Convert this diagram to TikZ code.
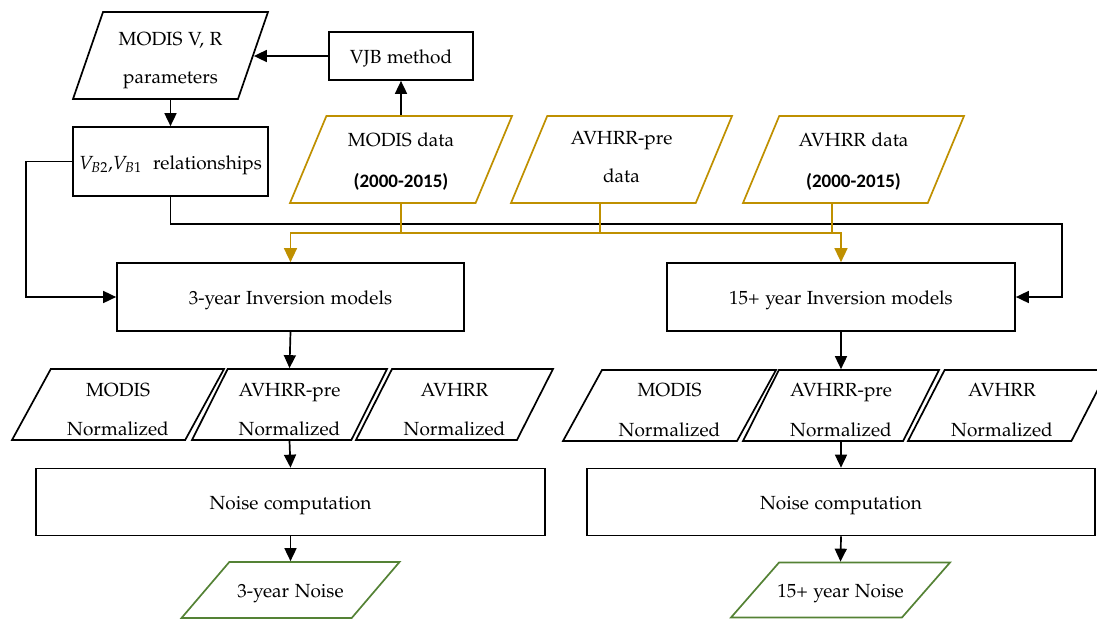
\documentclass[tikz,border=0pt]{standalone}
\usepackage[T1]{fontenc}
\usepackage{mathpazo}
\usepackage{fontspec}
\newfontfamily\carl{Carlito}
\usetikzlibrary{shapes.geometric,arrows.meta,calc}
\definecolor{gold}{RGB}{191,144,0}
\definecolor{dgreen}{RGB}{84,130,53}
\newcommand\palfont{\fontencoding{T1}\fontfamily{pplx}\fontsize{19}{39}\selectfont}
% single line text, baseline 7.5pt below the node centre
\newcommand\onel[1]{\raisebox{-7.5pt}[0.5pt][0.5pt]{#1}}
% single line text in a parallelogram (text box kept tiny)
\newcommand\onep[1]{\makebox[2pt]{\makebox[0pt]{\raisebox{-7.5pt}[0.5pt][0.5pt]{#1}}}}
% two lines: raise of the first baseline, raise of the second baseline
\newcommand\twol[4]{\makebox[2pt]{\makebox[0pt]{\raisebox{#1}[0.5pt][0.5pt]{#3}}\makebox[0pt]{\raisebox{#2}[0.5pt][0.5pt]{#4}}}}
\tikzset{
  base/.style={font=\palfont, inner sep=0pt, line width=1.7pt},
  box/.style={base, draw, rectangle},
  para/.style={base, draw, trapezium, trapezium left angle=#1, trapezium right angle={180-#1}, trapezium stretches=true},
  arr/.style={-{Triangle[length=13pt,width=12pt]}, line width=1.7pt},
  gline/.style={draw=gold, line width=1.5pt},
  garr/.style={gline, -{Triangle[length=14pt,width=13pt]}, gold},
}
\begin{document}
\begin{tikzpicture}[x=1pt,y=-1pt]
\useasboundingbox (0,0) rectangle (1097,619);
% top left
\node[para=66, minimum width=195pt, minimum height=87pt] (mvr) at (170.5,55.5) {\twol{10.5pt}{-27.5pt}{MODIS V, R}{parameters}};
\node[box, minimum width=144pt, minimum height=48pt] (vjb) at (401,56) {\onel{VJB method}};
\node[box, minimum width=195pt, minimum height=69pt] (rel) at (170.5,161.5) {\onel{$V_{B2}$,$V_{B1}$~~relationships}};
% gold data
\node[para=64, draw=gold, minimum width=222pt, minimum height=87pt] (mdata) at (401,159.5) {\twol{12.8pt}{-27.5pt}{MODIS data}{\carl\bfseries (2000-2015)}};
\node[para=64, draw=gold, minimum width=221pt, minimum height=87pt] (pdata) at (621.5,159.5) {\twol{15.5pt}{-23.2pt}{AVHRR-pre}{data}};
\node[para=64, draw=gold, minimum width=221pt, minimum height=87pt] (adata) at (853.5,159.5) {\twol{12.8pt}{-27.5pt}{AVHRR data}{\carl\bfseries (2000-2015)}};
% inversion models
\node[box, minimum width=347pt, minimum height=68pt] (m3) at (290.5,297) {\onel{3-year Inversion models}};
\node[box, minimum width=348pt, minimum height=68pt] (m15) at (841,297) {\onel{15+ year Inversion models}};
% normalized
\node[para=60, minimum width=212pt, minimum height=71pt] (n3m) at (118,404.5) {\twol{7.8pt}{-31pt}{MODIS}{Normalized}};
\node[para=60, minimum width=195pt, minimum height=71pt] (n3p) at (289.5,404.5) {\twol{7.8pt}{-31pt}{AVHRR-pre}{Normalized}};
\node[para=60, minimum width=197pt, minimum height=71pt] (n3a) at (454.5,404.5) {\twol{7.8pt}{-31pt}{AVHRR}{Normalized}};
\node[para=60, minimum width=213pt, minimum height=71pt] (n15m) at (669.5,405.5) {\twol{8.8pt}{-30.5pt}{MODIS}{Normalized}};
\node[para=60, minimum width=196pt, minimum height=71pt] (n15p) at (841,405.5) {\twol{8.8pt}{-30.5pt}{AVHRR-pre}{Normalized}};
\node[para=60, minimum width=200pt, minimum height=71pt] (n15a) at (1008,405.5) {\twol{8.8pt}{-30.5pt}{\hspace*{-12pt}AVHRR}{\hspace*{-12pt}Normalized}};
% noise computation
\node[box, minimum width=509pt, minimum height=67pt] (nc3) at (290.5,502) {\onel{Noise computation}};
\node[box, minimum width=508pt, minimum height=67pt] (nc15) at (841,502) {\onel{Noise computation}};
% outputs
\node[para=52, draw=dgreen, minimum width=218pt, minimum height=56pt] (g3) at (290.5,590) {\onep{3-year Noise}};
\node[para=52, draw=dgreen, minimum width=219pt, minimum height=55pt] (g15) at (840.5,590) {\onep{15+ year Noise}};
% connectors
\draw[arr] (vjb.west) -- (vjb.west -| mvr.right side);
\draw[arr] (mvr.center |- mvr.bottom side) -- (rel.north);
\draw[arr] (mdata.center |- mdata.top side) -- (vjb.south);
\coordinate (lc) at (26,297);
\draw[arr] (rel.west) -| (lc) -- (m3.west);
\coordinate (rc) at (1062,297);
\draw[arr] (rel.south) -- ++(0,27) -| (rc) -- (m15.east);
\coordinate (j) at (401,233);
\draw[gline] (mdata.center |- mdata.bottom side) -- (j);
\draw[gline] ([xshift=-3pt]pdata.bottom side) -- ([xshift=-3pt]pdata.bottom side |- j);
\draw[gline] ([xshift=-3pt]adata.bottom side) -- ([xshift=-3pt]adata.bottom side |- j);
\draw[garr] (j) -| (m3.north);
\draw[garr] (j) -| (m15.north);
\draw[arr] (m3.south) -- (n3p.center |- n3p.top side);
\draw[arr] (m15.south) -- (n15p.center |- n15p.top side);
\draw[arr] (n3p.center |- n3p.bottom side) -- (nc3.north);
\draw[arr] (n15p.center |- n15p.bottom side) -- (nc15.north);
\draw[arr] (nc3.south) -- (g3.center |- g3.top side);
\draw[arr] (nc15.south) -- (g15.center |- g15.top side);
\end{tikzpicture}
\end{document}
